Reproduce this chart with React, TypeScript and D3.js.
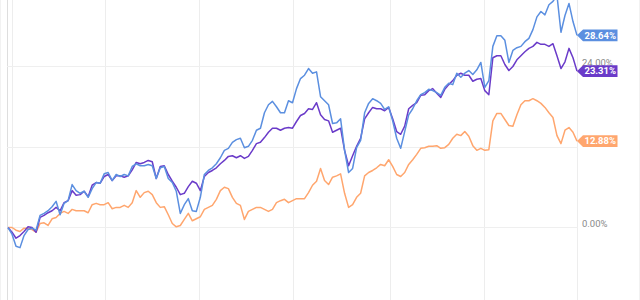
import React from "react";
import * as d3 from "d3";

const seriesNames = ["Blue", "Purple", "Orange"];
const seriesColors = ["#5b8fe0", "#6a3bc9", "#ffa66e"];

const blueValues = [
  0, -1.0, -2.8, -3.0, -1.2, -0.3, -0.1, -0.4, 1.8, 2.1, 2.5, 3.1, 3.9, 1.9, 3.6, 4.0,
  6.4, 5.5, 5.1, 5.4, 4.5, 5.8, 6.7, 6.6, 8.0, 8.2, 7.0, 7.9, 7.6, 7.9, 7.7, 9.1,
  9.5, 9.2, 9.2, 9.4, 9.2, 7.3, 8.9, 9.1, 7.3, 6.7, 5.4, 2.1, 3.4, 4.3, 2.5, 2.4,
  4.5, 7.9, 8.5, 8.9, 9.5, 10.4, 11.5, 11.8, 12.7, 13.1, 13.3, 11.9, 12.1, 13.0, 14.5, 14.8,
  17.1, 18.3, 18.8, 18.0, 17.1, 17.1, 18.9, 18.6, 20.7, 22.2, 22.7, 23.7, 23.0, 23.2, 19.5, 18.9,
  18.3, 15.5, 15.6, 16.2, 11.5, 8.2, 8.8, 11.9, 13.0, 17.1, 18.5, 19.2, 18.9, 18.5, 17.6, 18.0,
  15.9, 13.3, 11.8, 14.3, 16.8, 17.7, 18.9, 19.8, 20.1, 20.6, 20.4, 20.1, 19.7, 20.9, 21.5, 21.3,
  23.0, 22.4, 23.0, 23.4, 22.8, 23.5, 24.6, 20.9, 21.9, 27.0, 28.6, 28.6, 27.9, 24.6, 26.4, 26.8,
  27.0, 27.7, 28.2, 29.5, 31.4, 32.2, 31.7, 33.2, 33.7, 34.6, 29.1, 31.6, 33.4, 30.7, 28.64,
];

const purpleValues = [
  0, -0.7, -1.6, -1.2, -0.6, 0.1, 0, -0.7, 1.5, 1.8, 2.2, 2.5, 3.0, 2.5, 3.7, 4.0,
  5.5, 4.8, 4.9, 5.4, 4.6, 6.3, 6.7, 6.6, 7.6, 7.9, 7.0, 7.7, 7.7, 7.5, 7.7, 8.6,
  9.7, 9.5, 9.7, 10.0, 9.8, 7.3, 9.1, 9.2, 7.9, 6.9, 6.0, 4.9, 5.1, 6.1, 6.9, 6.6,
  5.5, 7.6, 8.2, 8.5, 8.9, 9.5, 10.0, 10.6, 10.7, 10.4, 10.7, 10.3, 10.6, 11.5, 12.5, 12.7,
  13.4, 14.2, 14.8, 14.8, 14.5, 14.8, 14.9, 14.8, 15.8, 16.7, 17.0, 17.7, 17.6, 18.6, 16.8, 16.1,
  15.9, 14.2, 14.5, 14.8, 11.5, 9.2, 10.7, 12.1, 13.3, 16.2, 17.1, 17.9, 17.7, 17.7, 17.4, 17.9,
  16.2, 14.3, 13.9, 15.1, 17.7, 18.2, 18.6, 19.7, 19.8, 20.4, 20.7, 20.0, 19.4, 20.6, 21.3, 21.9,
  22.7, 23.0, 22.7, 22.7, 21.8, 22.1, 22.2, 20.4, 19.8, 25.3, 25.6, 25.6, 24.3, 23.4, 24.0, 25.0,
  25.6, 26.2, 26.7, 27.0, 27.6, 27.3, 27.3, 27.0, 27.4, 25.6, 23.7, 24.7, 26.7, 25.3, 23.31,
];

const orangeValues = [
  0, 0, -0.4, -0.6, -0.1, -0.1, -0.3, -0.7, 0.6, 0.7, 0.3, 1.3, 1.5, 2.1, 2.4, 2.1,
  2.7, 2.5, 2.5, 2.5, 2.2, 3.4, 3.6, 3.4, 3.4, 3.7, 2.8, 3.0, 3.0, 3.3, 3.0, 3.7,
  5.5, 4.5, 5.2, 5.4, 4.9, 3.7, 3.0, 3.1, 1.9, 0.6, 0.1, 0.3, 1.2, 2.1, 1.0, 1.3,
  1.6, 2.7, 3.0, 3.3, 4.2, 5.5, 6.0, 5.8, 4.5, 3.6, 3.3, 1.2, 2.4, 2.7, 3.0, 3.0,
  2.7, 2.4, 2.7, 3.7, 4.0, 4.2, 3.7, 4.0, 4.3, 4.3, 4.3, 5.2, 6.3, 6.9, 8.8, 7.0,
  6.4, 7.5, 7.7, 8.0, 5.1, 3.0, 3.4, 4.5, 5.1, 7.7, 8.2, 8.5, 8.9, 9.4, 9.2, 10.1,
  9.1, 7.9, 7.6, 8.2, 9.4, 10.1, 10.9, 11.8, 11.9, 12.1, 12.1, 12.2, 11.8, 11.9, 12.4, 13.3,
  13.9, 13.7, 14.3, 13.6, 12.2, 11.5, 11.8, 11.5, 11.6, 15.9, 17.0, 17.0, 16.1, 15.2, 15.1, 16.8,
  18.3, 18.9, 18.9, 19.2, 18.9, 18.5, 17.9, 17.1, 16.4, 13.7, 12.5, 14.5, 14.9, 14.2, 12.88,
];

const yTicks = [0, 12, 24];
const yLabelTicks = [0, 24];
const xGridIdx = [1.1, 24.3, 47.8, 71.2, 95.5, 118.9, 142.1];

const W = 640;
const H = 300;

export default function App() {
  const n = blueValues.length;
  const x = d3.scaleLinear().domain([0, n - 1]).range([8, 577]);
  const y = d3.scaleLinear().domain([0, 24]).range([227.5, 66.5]);
  const line = d3
    .line<number>()
    .x((_, i) => x(i))
    .y((d) => y(d));

  const series = [
    { name: seriesNames[2], values: orangeValues, color: seriesColors[2] },
    { name: seriesNames[1], values: purpleValues, color: seriesColors[1] },
    { name: seriesNames[0], values: blueValues, color: seriesColors[0] },
  ];
  const tagOrder = [series[2], series[1], series[0]];
  const snap = (v: number) => Math.round(v - 0.5) + 0.5;
  const font = "Roboto, 'Noto Sans', Arial, sans-serif";

  return (
    <svg
      width={W}
      height={H}
      style={{ position: "absolute", left: 0, top: 0, background: "#fff" }}
      fontFamily={font}
    >
      <rect x={0} y={0} width={W} height={H} fill="#fff" />
      <line x1={0.5} x2={0.5} y1={0} y2={H} stroke="#f2f2f2" />
      <line x1={7.5} x2={7.5} y1={0} y2={H} stroke="#dedede" />
      <line x1={639.5} x2={639.5} y1={0} y2={H} stroke="#f2f2f2" />
      {xGridIdx.map((t, i) => (
        <line key={"vx" + i} x1={snap(x(t))} x2={snap(x(t))} y1={0} y2={H} stroke="#ededed" />
      ))}
      {yTicks.map((t) => (
        <line key={"hy" + t} x1={7} x2={578} y1={snap(y(t))} y2={snap(y(t))} stroke="#efefef" />
      ))}
      {yLabelTicks.map((t) => (
        <text key={"yl" + t} x={582} y={y(t) - 0.5} fontSize={9.5} fill="#8a8a8a">
          {t.toFixed(2) + "%"}
        </text>
      ))}
      {series.map((s) => (
        <path
          key={s.name}
          d={line(s.values) || ""}
          fill="none"
          stroke={s.color}
          strokeWidth={1.5}
          strokeLinejoin="round"
        />
      ))}
      {tagOrder.map((s) => {
        const v = s.values[s.values.length - 1];
        const cy = y(v);
        const tip = 577;
        const bx = 583;
        const bw = 34.5;
        const hh = 5.8;
        const d = `M${tip},${cy} L${bx},${cy - hh} L${bx + bw},${cy - hh} L${bx + bw},${cy + hh} L${bx},${cy + hh} Z`;
        return (
          <g key={"tag" + s.name}>
            <path d={d} fill={s.color} />
            <text
              x={bx + bw / 2}
              y={cy + 3.3}
              textAnchor="middle"
              fontSize={9.5}
              fontWeight={700}
              fill="#fff"
            >
              {v.toFixed(2) + "%"}
            </text>
          </g>
        );
      })}
    </svg>
  );
}
